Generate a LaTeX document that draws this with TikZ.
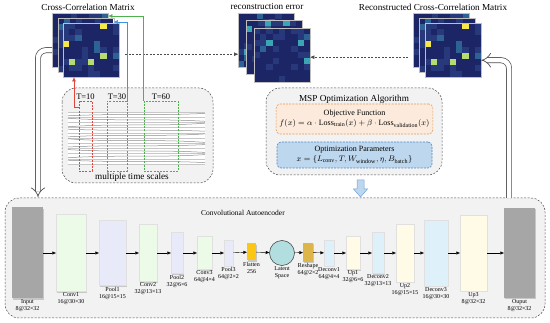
\documentclass[tikz,border=0pt]{standalone}
\usepackage{fontspec}
\setmainfont{Liberation Serif}
\usetikzlibrary{arrows.meta,shadows,positioning}

\definecolor{hmNavy}{HTML}{1C2566}
\definecolor{hmBlue}{HTML}{27397A}
\definecolor{hmTeal}{HTML}{2D6394}
\definecolor{hmCyan}{HTML}{3AA6B4}
\definecolor{hmLime}{HTML}{B6DB73}
\definecolor{hmYel}{HTML}{F7E84A}
\definecolor{cGray}{HTML}{A6A6A6}
\definecolor{cConv}{HTML}{ECFAE8}
\definecolor{cPool}{HTML}{E8EAFA}
\definecolor{cFlat}{HTML}{FCC614}
\definecolor{cLatent}{HTML}{B3DEDF}
\definecolor{cResh}{HTML}{DEB54A}
\definecolor{cDeconv}{HTML}{DEF1FB}
\definecolor{cUp}{HTML}{FFFBE6}
\definecolor{cObj}{HTML}{FCEBDC}
\definecolor{cObjLine}{HTML}{E39A55}
\definecolor{cPar}{HTML}{BDD7EE}
\definecolor{cParLine}{HTML}{4F89C6}
\definecolor{cRed}{HTML}{E2453C}
\definecolor{cBlue}{HTML}{3E95DE}
\definecolor{cGreen}{HTML}{4DB24D}

% heat map: name, left, top, seed, threshold for the bright cells
\newcommand{\heatmap}[5]{%
  \pgfmathsetseed{#4}
  \foreach \i in {0,...,8}{
    \foreach \j in {0,...,8}{
      \pgfmathrandominteger{\hmv}{1}{100}
      \ifnum\hmv>#5\relax \ifodd\hmv\def\hmc{hmYel}\else\def\hmc{hmLime}\fi
      \else\ifnum\hmv>95 \def\hmc{hmCyan}%
      \else\ifnum\hmv>88 \def\hmc{hmTeal}%
      \else\ifnum\hmv>64 \def\hmc{hmBlue}%
      \else \def\hmc{hmNavy}\fi\fi\fi\fi
      \fill[\hmc] (#2+\i*6.22,#3+\j*6) rectangle ++(6.22,6);
    }
  }
  \node[draw=gray!50, line width=0.4pt, minimum width=56, minimum height=54, inner sep=0pt, anchor=north west] (#1) at (#2,#3) {};
}

\tikzset{
  panel/.style={draw=black!70, fill=black!5, dash pattern=on 2pt off 1.5pt, rounded corners=14pt, line width=0.5pt},
  captxt/.style={font=\fontsize{9.2}{11}\selectfont, inner sep=1pt},
  lab/.style={font=\fontsize{6}{7}\selectfont, align=center, inner sep=1pt},
  blk/.style={draw=black!12, line width=0.3pt, inner sep=0pt, drop shadow={shadow xshift=1.3pt, shadow yshift=-1.3pt, opacity=0.3, fill=black!60}},
  flow/.style={line width=0.4pt, -{Triangle[length=3.5pt,width=3pt]}},
  window/.style={dash pattern=on 2pt off 1.2pt, line width=0.6pt, inner sep=0pt, minimum height=70},
  tlab/.style={font=\fontsize{8.5}{10}\selectfont, inner sep=0.5pt},
  winarrow/.style={line width=0.6pt, -{Triangle[length=4pt,width=3.5pt]}},
  dlink/.style={black!70, dash pattern=on 2pt off 1.5pt, line width=0.6pt, -{Triangle[length=4pt,width=3.5pt]}},
  dbl/.style={draw=black!70, double=white, double distance=4.5pt, line width=0.7pt, rounded corners=8pt, -{Implies}},
  optbox/.style={rounded corners=4pt, dash pattern=on 2pt off 1.2pt, line width=0.6pt, minimum width=155, align=center, font=\fontsize{8}{10}\selectfont},
}

\begin{document}
\begin{tikzpicture}[x=1pt, y=-1pt]
  \useasboundingbox (0,0) rectangle (550,323);
  % panels
  \draw[panel] (62,88) rectangle (213,183);
  \draw[panel] (266,88) rectangle (442,175);
  \draw[panel] (5,198) rectangle (545,318);

  % matrices
  \heatmap{ccmA}{52}{13}{3}{95}
  \heatmap{ccmB}{57.5}{18}{5}{95}
  \heatmap{ccmC}{63}{23}{8}{95}
  \heatmap{errA}{238}{13}{21}{101}
  \heatmap{errB}{246}{20}{22}{101}
  \heatmap{errC}{254}{28}{23}{101}
  \heatmap{ccmD}{413}{13}{3}{95}
  \heatmap{ccmE}{419}{18}{5}{95}
  \heatmap{ccmF}{425}{23}{8}{95}
  \node[captxt] (ccmlab) at (88,7) {Cross-Correlation Matrix};
  \node[captxt] (errlab) at (267,7) {reconstruction error};
  \node[captxt] (reclab) at (433,7) {Reconstructed Cross-Correlation Matrix};

  % comparison
  \coordinate (lnk1) at ([xshift=6pt,yshift=-4pt]ccmC.east);
  \coordinate (lnk2) at ([xshift=-5pt,yshift=-17pt]ccmD.west);
  \draw[dlink] (lnk1) -- (lnk1 -| errA.west);
  \draw[dlink] (lnk2) -- (lnk2 -| errC.east);

  % time series
  \fill[white] (68,112) rectangle (205,164);
  \foreach \k in {0,...,10}
    \draw[black!22, line width=0.4pt] (68,112+\k*5.2) -- (205,112+\k*5.2);
  \foreach \k/\s in {0/1.2,1/-1.5,2/1.8,3/-1,4/1.5,5/-1.8,6/1.2,7/-1.4,8/1.6,9/-1.2}
    \draw[black!45, line width=0.5pt] (68,{114.6+\k*5.2+\s}) .. controls (115,{114.6+\k*5.2-(\s)}) and (155,{114.6+\k*5.2+\s}) .. (205,{114.6+\k*5.2-(\s)});
  \node[window, draw=cRed, minimum width=13] (tw10) at (85.5,136) {};
  \node[window, draw=cBlue, minimum width=20] (tw30) at (117,136) {};
  \node[window, draw=cGreen, minimum width=34] (tw60) at (161,136) {};
  \node[tlab, above=0pt of tw10] (t10) {T=10};
  \node[tlab, above=0pt of tw30] (t30) {T=30};
  \node[tlab, above=0pt of tw60] (t60) {T=60};
  \node[captxt] (tslab) at (132,177) {multiple time scales};
  \draw[winarrow, cRed] ([yshift=-7pt]tw10.north west) -| ([xshift=11pt]ccmC.south west);
  \draw[winarrow, cBlue] (tw30.north east) |- ([yshift=-4pt]ccmB.north east);
  \draw[winarrow, cGreen] (tw60.north west) |- ([yshift=-3pt]ccmA.north east);

  % optimisation
  \node[captxt] (msplab) at (354,99) {MSP Optimization Algorithm};
  \node[optbox, fill=cObj, draw=cObjLine, minimum height=30] (obj) at (354.5,119) {Objective Function\\
    $f(x)=\alpha\cdot\mathrm{Loss}_{\mathrm{train}}(x)+\beta\cdot\mathrm{Loss}_{\mathrm{validation}}(x)$};
  \node[optbox, fill=cPar, draw=cParLine, minimum height=26] (par) at (354.5,155) {Optimization Parameters\\
    $x=\{L_{\mathrm{conv}},T,W_{\mathrm{window}},\eta,B_{\mathrm{batch}}\}$};
  \draw[fill=cPar, draw=cParLine!80, line width=0.5pt] (357,180) -- (364,180) -- (364,189) -- (367.5,189) -- (360.5,197) -- (353.5,189) -- (357,189) -- cycle;

  % autoencoder
  \node[font=\fontsize{7.5}{9}\selectfont] (aelab) at (243,213) {Convolutional Autoencoder};
  \node[blk, fill=cGray, draw=none, minimum width=31, minimum height=91, label={[lab]below:Input\\8@32×32}] (inp) at (27.5,253) {};
  \node[blk, fill=cConv, minimum width=30, minimum height=77, label={[lab]below:Conv1\\16@30×30}] (conv1) at (71,253) {};
  \node[blk, fill=cPool, minimum width=27, minimum height=65, label={[lab]below:Pool1\\16@15×15}] (pool1) at (112.5,253) {};
  \node[blk, fill=cConv, minimum width=18, minimum height=57, label={[lab]below:Conv2\\32@13×13}] (conv2) at (148,253) {};
  \node[blk, fill=cPool, minimum width=12, minimum height=41, label={[lab]below:Pool2\\32@6×6}] (pool2) at (177,253) {};
  \node[blk, fill=cConv, minimum width=15, minimum height=33, label={[lab]below:Conv3\\64@4×4}] (conv3) at (204.5,253) {};
  \node[blk, fill=cPool, minimum width=9, minimum height=26, label={[lab]below:Pool3\\64@2×2}] (pool3) at (228.5,253) {};
  \node[blk, fill=cFlat, draw=none, minimum width=9, minimum height=17, label={[lab]below:Flatten\\256}] (flat) at (251.5,252) {};
  \node[circle, draw=black!80, line width=0.5pt, fill=cLatent, minimum size=25, inner sep=0pt, label={[lab]below:Latent\\Space}] (lat) at (282,253) {};
  \node[blk, fill=cResh, draw=none, minimum width=10, minimum height=19, label={[lab]below:Reshape\\64@2×2}] (resh) at (308,252.5) {};
  \node[blk, fill=cDeconv, minimum width=10, minimum height=26, label={[lab]below:Deconv1\\64@4×4}] (dec1) at (329,253) {};
  \node[blk, fill=cUp, minimum width=14, minimum height=33, label={[lab]below:Up1\\32@6×6}] (up1) at (353,253) {};
  \node[blk, fill=cDeconv, minimum width=12, minimum height=41, label={[lab]below:Deconv2\\32@13×13}] (dec2) at (378,253) {};
  \node[blk, fill=cUp, minimum width=18, minimum height=58, label={[lab]below:Up2\\16@15×15}] (up2) at (405,253) {};
  \node[blk, fill=cDeconv, minimum width=24, minimum height=66, label={[lab]below:Deconv3\\16@30×30}] (dec3) at (436,253) {};
  \node[blk, fill=cUp, minimum width=27, minimum height=76, label={[lab]below:Up3\\8@32×32}] (up3) at (473.5,253) {};
  \node[blk, fill=cGray, draw=none, minimum width=31, minimum height=90, label={[lab]below:Ouput\\8@32×32}] (outp) at (519.5,253) {};
  \foreach \a/\b in {inp/conv1, conv1/pool1, pool1/conv2, conv2/pool2, pool2/conv3, conv3/pool3, pool3/flat, flat/lat, lat/resh, resh/dec1, dec1/up1, up1/dec2, dec2/up2, up2/dec3, dec3/up3, up3/outp}
    \draw[flow] (\a) -- (\b);

  % feedback
  \coordinate (inTop) at (38,197);
  \coordinate (outBot) at (509,198);
  \draw[dbl] ([yshift=-10pt]ccmA.west) -| (inTop);
  \draw[dbl] (outBot) |- ([yshift=-10pt]ccmF.east);
\end{tikzpicture}
\end{document}
